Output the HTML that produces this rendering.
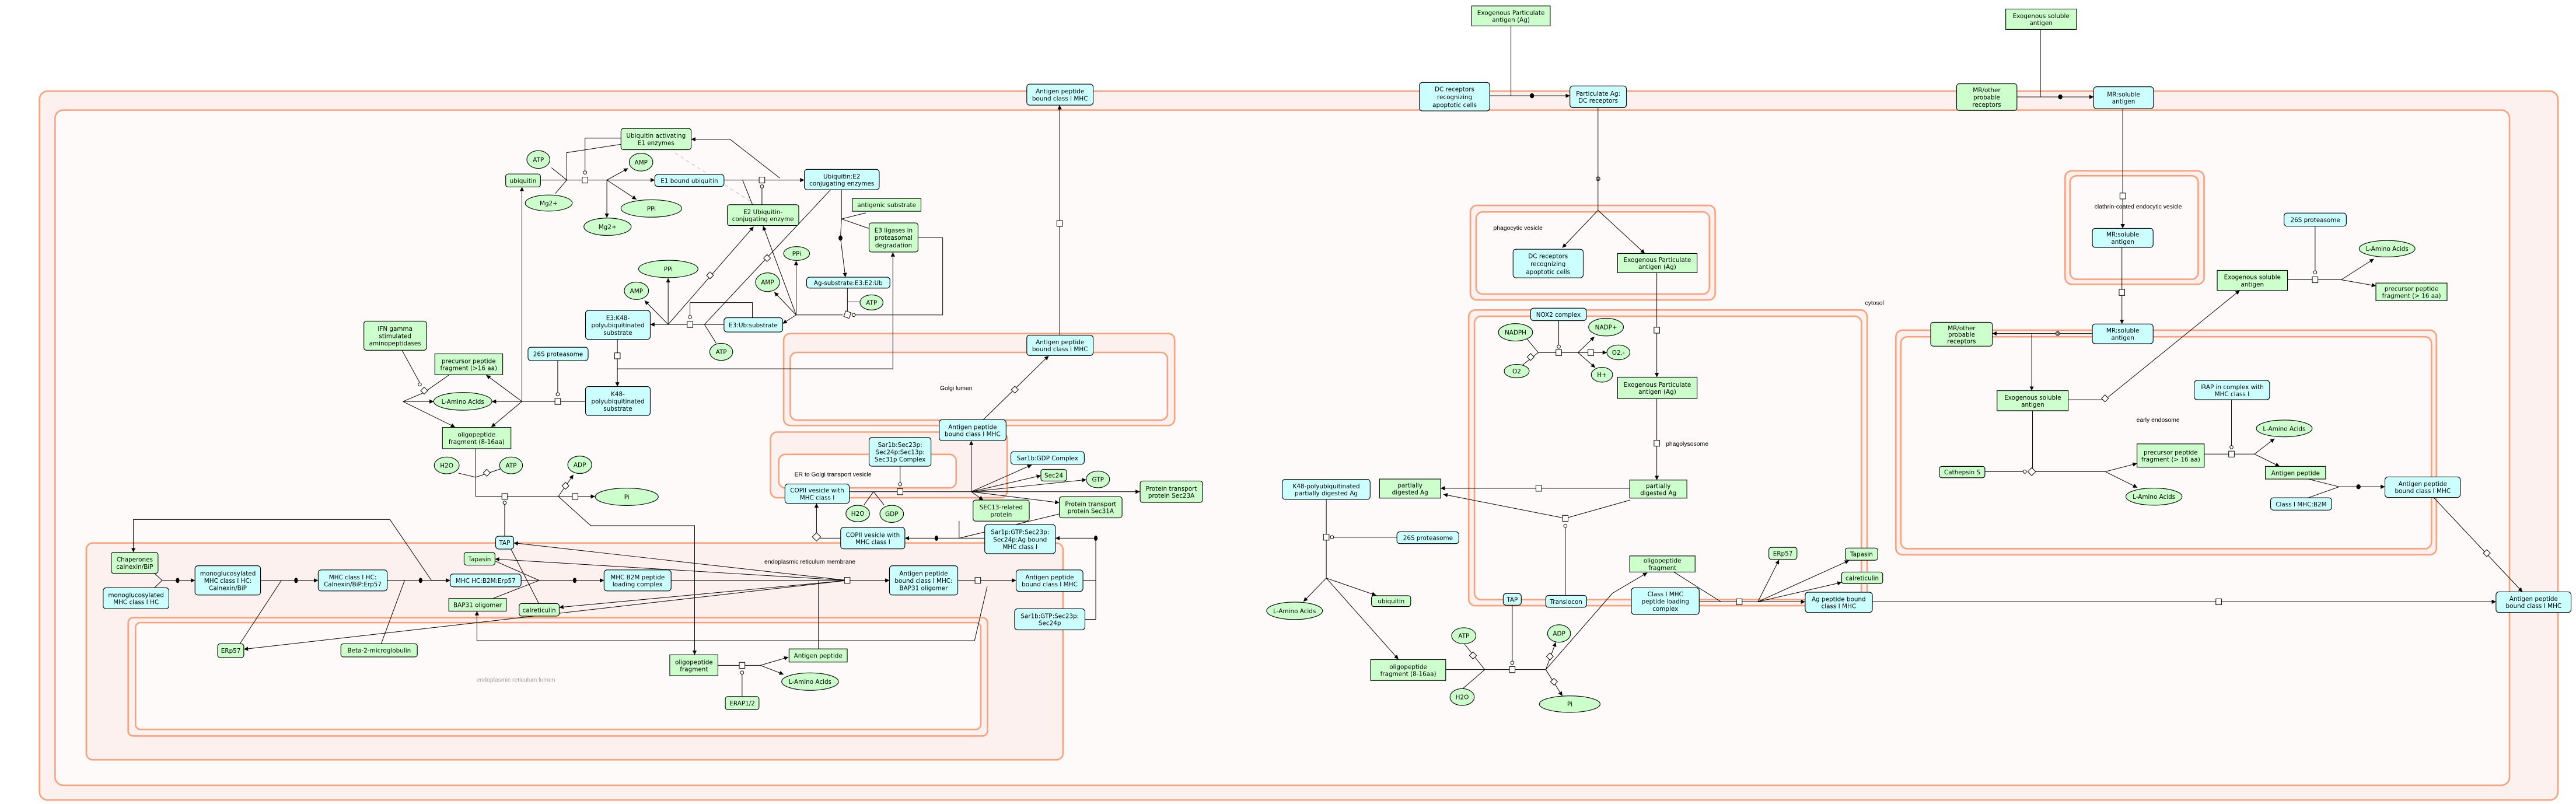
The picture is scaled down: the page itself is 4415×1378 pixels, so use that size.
<!DOCTYPE html>
<html><head><meta charset="utf-8"><style>
html,body{margin:0;padding:0;background:#fff}
svg{display:block}
text{font-family:"DejaVu Sans","Liberation Sans",sans-serif;font-size:3.7px;text-anchor:middle;fill:#000}
.cp{fill:#fcf1ee;stroke:#ff9f78;stroke-width:0.9}
.ci{fill:#fdfaf9;stroke:#ff9f78;stroke-width:0.9}
.c{fill:#ccffff;stroke:#000;stroke-width:0.4}
.g{fill:#ccffcc;stroke:#000;stroke-width:0.4}
.l{fill:none;stroke:#000;stroke-width:0.35}
.la{fill:none;stroke:#000;stroke-width:0.35;marker-end:url(#a)}
.sq{fill:#fff;stroke:#000;stroke-width:0.35}
.dot{fill:#000}
.lbl{font-family:"Liberation Sans",sans-serif;font-size:3.7px}
</style></head><body>
<svg width="4415" height="1378" viewBox="0 0 1568 489.4" preserveAspectRatio="none" xmlns="http://www.w3.org/2000/svg">
<defs><marker id="a" viewBox="0 0 10 10" refX="10" refY="5" markerWidth="2.6" markerHeight="2.6" markerUnits="userSpaceOnUse" orient="auto"><path d="M0,0L10,5L0,10z"/></marker></defs>
<rect width="1568" height="489.4" fill="#fff"/>
<!-- compartments -->
<rect class="cp" x="24" y="55.5" width="1533" height="431.5" rx="5"/>
<rect class="ci" x="33.5" y="67" width="1494" height="411" rx="5"/>
<rect class="cp" x="52.5" y="330.5" width="594.5" height="132" rx="4"/>
<rect class="cp" x="78" y="376" width="523" height="72" rx="3"/>
<rect class="ci" x="82.5" y="379" width="514.5" height="65" rx="3"/>
<text class="lbl" x="314" y="415" style="fill:#999">endoplasmic reticulum lumen</text>
<text class="lbl" x="493" y="343">endoplasmic reticulum membrane</text>
<rect class="cp" x="477" y="203" width="238" height="56" rx="4"/>
<rect class="ci" x="481" y="214.5" width="229.6" height="41.2" rx="4"/>
<text class="lbl" x="582" y="237.5">Golgi lumen</text>
<rect class="cp" x="469" y="263" width="144" height="40" rx="4"/>
<rect class="ci" x="474" y="276.6" width="108" height="20.4" rx="4"/>
<text class="lbl" x="507" y="290">ER to Golgi transport vesicle</text>
<rect class="cp" x="895" y="125" width="149" height="57.6" rx="4"/>
<rect class="ci" x="898.5" y="129" width="142" height="50" rx="4"/>
<text class="lbl" x="909" y="140" style="text-anchor:start">phagocytic vesicle</text>
<rect class="cp" x="894" y="188.7" width="242.5" height="180" rx="4"/>
<rect class="ci" x="897.5" y="192.5" width="235.5" height="172.5" rx="4"/>
<text class="lbl" x="1014" y="271.3" style="text-anchor:start">phagolysosome</text>
<text class="lbl" x="1141" y="185.5">cytosol</text>
<rect class="cp" x="1257" y="104" width="84.6" height="69" rx="4"/>
<rect class="ci" x="1260" y="107" width="78" height="63" rx="4"/>
<text class="lbl" x="1301.5" y="127">clathrin-coated endocytic vesicle</text>
<rect class="cp" x="1154" y="201" width="329" height="136.7" rx="4"/>
<rect class="ci" x="1157" y="205" width="323" height="129" rx="4"/>
<text class="lbl" x="1313.6" y="256.8">early endosome</text>

<!-- connectors -->
<g>
<path class="l" d="M919.7 15.8V58.3"/><path class="la" d="M906.8 58.3H955.6"/>
<path class="l" d="M972.7 65.5V128"/><path class="la" d="M972.7 128L951 150.8"/><path class="la" d="M972.7 128L1001.2 154.3"/>
<path class="l" d="M1242 17.9V59"/><path class="la" d="M1227.7 59H1274.4"/>
<path class="la" d="M1292.1 66.2V139"/><path class="la" d="M1291.6 150.6V197.2"/>
<path class="la" d="M1273.6 203H1212.7"/><path class="la" d="M1236.7 203V237.8"/>
<path class="la" d="M1258.9 243.3H1281.3L1363.3 176.8"/>
<path class="l" d="M1392.4 170.3H1425.1M1409.2 164.8V137.7"/>
<path class="la" d="M1425.1 170.3L1445 157.6"/><path class="la" d="M1425.1 170.3L1446.2 174"/>
<path class="l" d="M1237.2 250V287.1M1208.2 287.1H1231.5M1238.5 287.1H1281.5"/>
<path class="la" d="M1281.5 287.1L1300.8 282.1"/><path class="la" d="M1281.5 287.1L1301 296.8"/>
<path class="l" d="M1341.7 276.4H1372.3M1358.3 271.2V243.3"/>
<path class="la" d="M1372.3 276.4L1384.5 267"/><path class="la" d="M1372.3 276.4L1387.6 283.9"/>
<path class="l" d="M1405 291.6L1423.8 296.3L1405 303"/><path class="la" d="M1423.8 296.3H1451.7"/>
<path class="la" d="M1481.3 302.8L1535.4 360.3"/>
<path class="la" d="M1139.7 366.3H1519.3"/>
<path class="la" d="M645 204V64"/>
<path class="la" d="M1008.5 166V229.6"/><path class="la" d="M1008.5 242.6V292.2"/>
<path class="l" d="M948.8 195.2V210M928 204.5L936.3 214.6L922 226M936.3 214.6H960.5"/>
<path class="la" d="M960.5 214.6L970.5 205"/><path class="la" d="M960.5 214.6H978.1"/><path class="la" d="M960.5 214.6L971 223.8"/>
<path class="la" d="M992 297.2H876.9"/>
<path class="la" d="M992.2 304.4L952.8 315.5L878.6 300.9"/><path class="l" d="M952.8 321V362.4"/>
<path class="l" d="M807.3 304V351.9M811.8 327H850.3"/>
<path class="la" d="M807.3 351.9L793.4 366.2"/><path class="la" d="M807.3 351.9L837.7 362.4"/><path class="la" d="M807.3 351.9L851.2 401.3"/>
<path class="l" d="M880 407.6H940.9M891 391.5L903.8 407.6L890 419.5M920.5 402.4V368.4"/>
<path class="la" d="M940.9 407.6L947 391"/><path class="la" d="M940.9 407.6L951 423.6"/>
<path class="la" d="M940.9 407.6L981.5 361.1L1002.7 348.6"/>
<path class="l" d="M1018.9 348.2L1047.5 366.3"/><path class="la" d="M1034.3 366.3H1098.8"/>
<path class="la" d="M1070 366.3L1082.9 340.8"/><path class="la" d="M1070 366.3L1125.5 341.2"/><path class="la" d="M1070 366.3L1121 354.5"/>
<!-- ubiquitin -->
<path class="l" d="M329 109.6H356M335.7 102.1L345 109.6L338 117.8M378.2 87.8L345 92.9V109.6M356.1 104V84.1H378"/>
<path class="la" d="M358 109.6H398.6"/><path class="la" d="M369.4 109.6L382.3 102.5"/><path class="la" d="M369.4 109.6L387.4 121.4"/><path class="la" d="M369.4 109.6V132.6"/>
<path class="la" d="M440.7 109.6H489.6"/><path class="l" d="M463.8 114.5V124.6M452 109.6L458 124.6"/>
<path class="la" d="M474.7 108.4L444.4 84.8H420.7"/>
<path d="M411 93.2L458.7 123.8" stroke="#bbb" stroke-width="0.35" stroke-dasharray="2,2" fill="none"/>
<path class="la" d="M440.7 197.5H395.8"/><path class="l" d="M420 192V184.2H458V193.4"/>
<path class="la" d="M406.7 197.5L392.4 183"/><path class="la" d="M406.7 197.5V169.3"/><path class="la" d="M406.7 197.5L458.7 138"/>
<path class="l" d="M505.6 115.5L428.8 197.5M436 209L428.8 197.5"/>
<path class="l" d="M515.8 175.4V191.5M520.6 191.7H573.8V144.7H558.8M523.4 183.8H515.8M513 191.7H484.6"/>
<path class="la" d="M484.6 191.7L476.4 197"/><path class="la" d="M484.6 191.7V158.8"/><path class="la" d="M484.6 191.7L471.3 177.8"/><path class="la" d="M484.6 191.7L464.5 137.6"/>
<path class="l" d="M512.2 115.5V133.3L511.6 144.9M527 129.6L512.2 133.3L528.7 139"/><path class="la" d="M511.6 144.9L514.6 168.7"/>
<path class="la" d="M375.8 206.6V235.3"/><path class="la" d="M375.8 224.5H543.5V153.6"/>
<path class="l" d="M356.4 244.4H317.7M339.5 239V219.5"/>
<path class="la" d="M317.7 244.4H299.4"/><path class="la" d="M317.7 244.4V113.8"/><path class="la" d="M317.7 244.4L296 228.3"/><path class="la" d="M317.7 244.4L299 260"/>
<path class="la" d="M245.3 244.4H264"/><path class="la" d="M245.3 244.4L277 260"/>
<path class="l" d="M273.5 228.1L258 239L245.3 244.4M244.7 213.2L255.5 233"/>
<!-- ER cytosol reaction -->
<path class="l" d="M289.6 273V302.2H339.9M279 288L289.6 290.5L304.5 285.5M307.2 307V326.4"/>
<path class="la" d="M339.9 302.2H362.2"/><path class="la" d="M339.9 302.2L349 289"/>
<path class="la" d="M339.9 302.2L359.6 320H422.8V398.6"/>
<!-- ER -->
<path class="l" d="M437 405H462.8M451.7 410.4V424"/>
<path class="la" d="M462.8 405L479.9 400"/><path class="la" d="M462.8 405L477 410.5"/>
<path class="la" d="M237.3 316.2H81.2V336.2"/><path class="la" d="M237.3 316.2L262.6 353.3H274"/>
<path class="l" d="M94 349L98.7 353.3L94 357.8"/><path class="la" d="M98.7 353.3H118.7"/>
<path class="la" d="M158.6 353.3H193.7"/><path class="l" d="M171.3 353.3L146 391.9"/>
<path class="la" d="M235.7 353.3H274"/><path class="l" d="M246.3 353.3L232 391.9"/>
<path class="la" d="M317.2 353.3H367.7"/><path class="l" d="M301.3 341.5L328.2 353.3L300 364.3M311 334.2L328 367.4"/>
<path class="la" d="M408.5 353.3H541.4"/>
<path class="la" d="M515.7 353.3L312.7 330.5"/><path class="la" d="M515.7 353.3L301.3 340.3"/><path class="la" d="M515.7 353.3L340.4 369.7"/><path class="la" d="M515.7 353.3L148.4 395.2"/>
<path class="l" d="M498.2 353.3V395"/>
<path class="la" d="M583 353.3H618.5"/><path class="la" d="M600.9 357L593.2 390H290.3V372"/>
<path class="l" d="M659.2 353.3H667M660.4 377H667"/><path class="la" d="M667 377V327.6H642.4"/>
<path class="la" d="M599.4 327.6H550.8"/><path class="l" d="M583.8 317.2V327.6M644.7 312.9L583.8 327.6"/>
<path class="l" d="M511.7 327.6H499"/><path class="la" d="M497 324.5V306.4"/>
<path class="la" d="M517 299.3H693.8"/><path class="l" d="M547.9 293.8V283.8M525.8 307.5L531.7 299.3L538.2 307.5"/>
<path class="la" d="M591.2 299.3L628 283"/><path class="la" d="M591.2 299.3L633.6 289.5"/><path class="la" d="M591.2 299.3L661.2 292"/><path class="la" d="M591.2 299.3L644.8 306"/><path class="la" d="M591.2 299.3L598.5 304.4"/><path class="la" d="M591.2 299.3V268.3"/>
<path class="la" d="M598.5 255.5L638.3 216.6"/>
</g>
<!-- dots / modifiers -->
<g>
<ellipse class="dot" cx="932.5" cy="58.3" rx="1.3" ry="1.5"/>
<ellipse class="dot" cx="1254.1" cy="59" rx="1.3" ry="1.5"/>
<ellipse class="dot" cx="1435.6" cy="296.3" rx="1.3" ry="1.5"/>
<ellipse class="dot" cx="511.6" cy="144.9" rx="1.2" ry="1.6"/>
<ellipse class="dot" cx="108.1" cy="353.3" rx="1.1" ry="1.6"/>
<ellipse class="dot" cx="180.2" cy="353.3" rx="1.1" ry="1.6"/>
<ellipse class="dot" cx="256" cy="353.3" rx="1.1" ry="1.6"/>
<ellipse class="dot" cx="349.8" cy="353.3" rx="1.1" ry="1.6"/>
<ellipse class="dot" cx="570" cy="327.6" rx="1.1" ry="1.6"/>
<ellipse class="dot" cx="667" cy="327.6" rx="1.1" ry="1.6"/>
<circle class="sq" cx="972.7" cy="108.8" r="1.2"/><circle class="sq" cx="972.7" cy="108.8" r="0.6"/>
<circle class="sq" cx="1252.5" cy="203" r="1.2"/><circle class="sq" cx="1252.5" cy="203" r="0.6"/>
<circle class="sq" cx="1409.2" cy="165.8" r="1"/><circle class="sq" cx="1358.3" cy="272.2" r="1"/>
<circle class="sq" cx="1232.5" cy="287.1" r="1"/><circle class="sq" cx="948.8" cy="211" r="1"/>
<circle class="sq" cx="952.8" cy="320.1" r="1"/><circle class="sq" cx="810.8" cy="327" r="1"/>
<circle class="sq" cx="920.5" cy="403.4" r="1"/><circle class="sq" cx="356.1" cy="105" r="1"/>
<circle class="sq" cx="463.8" cy="113.5" r="1"/><circle class="sq" cx="420" cy="193" r="1"/>
<circle class="sq" cx="519.6" cy="191.7" r="1"/><circle class="sq" cx="339.5" cy="240" r="1"/>
<circle class="sq" cx="255.5" cy="234" r="1"/><circle class="sq" cx="307.2" cy="306" r="1"/>
<circle class="sq" cx="451.7" cy="409.4" r="1"/><circle class="sq" cx="547.9" cy="294.8" r="1"/>
<rect class="sq" x="1290.4" y="117.5" width="3.4" height="3.6"/>
<rect class="sq" x="1289.9" y="176.2" width="3.4" height="3.6"/>
<rect class="sq" x="1407.5" y="168.5" width="3.4" height="3.6"/>
<rect class="sq" x="1356.6" y="274.6" width="3.4" height="3.6"/>
<rect class="sq" x="947.1" y="212.8" width="3.4" height="3.6"/>
<rect class="sq" x="966.6" y="212.8" width="3.4" height="3.6"/>
<rect class="sq" x="1006.8" y="199.2" width="3.4" height="3.6"/>
<rect class="sq" x="1006.8" y="268" width="3.4" height="3.6"/>
<rect class="sq" x="934.9" y="295.4" width="3.4" height="3.6"/>
<rect class="sq" x="951.1" y="313.7" width="3.4" height="3.6"/>
<rect class="sq" x="805.6" y="325.2" width="3.4" height="3.6"/>
<rect class="sq" x="918.8" y="405.8" width="3.4" height="3.6"/>
<rect class="sq" x="1057" y="364.5" width="3.4" height="3.6"/>
<rect class="sq" x="1348.8" y="364.5" width="3.4" height="3.6"/>
<rect class="sq" x="643.3" y="134.2" width="3.4" height="3.6"/>
<rect class="sq" x="354.4" y="107.8" width="3.4" height="3.6"/>
<rect class="sq" x="462.1" y="107.8" width="3.4" height="3.6"/>
<rect class="sq" x="418.3" y="195.7" width="3.4" height="3.6"/>
<rect class="sq" x="514.1" y="189.7" width="3.4" height="3.6" transform="rotate(20 515.8 191.5)"/>
<rect class="sq" x="374.1" y="214.8" width="3.4" height="3.6"/>
<rect class="sq" x="337.8" y="242.6" width="3.4" height="3.6"/>
<rect class="sq" x="305.5" y="300.4" width="3.4" height="3.6"/>
<rect class="sq" x="348.4" y="300.4" width="3.4" height="3.6"/>
<rect class="sq" x="450" y="403.2" width="3.4" height="3.6"/>
<rect class="sq" x="514" y="351.5" width="3.4" height="3.6"/>
<rect class="sq" x="593.5" y="351.5" width="3.4" height="3.6"/>
<rect class="sq" x="546.2" y="297.5" width="3.4" height="3.6"/>
<rect class="sq" x="1279.8" y="241" width="3" height="3" transform="rotate(45 1281.3 242.5)"/>
<rect class="sq" x="1235" y="285.4" width="3.4" height="3.4" transform="rotate(45 1236.7 287.1)"/>
<rect class="sq" x="1512.2" y="335.2" width="3" height="3" transform="rotate(45 1513.7 336.7)"/>
<rect class="sq" x="930.2" y="215.8" width="3" height="3" transform="rotate(45 931.7 217.3)"/>
<rect class="sq" x="895.1" y="397.5" width="3" height="3" transform="rotate(45 896.6 399)"/>
<rect class="sq" x="941.9" y="398.1" width="3" height="3" transform="rotate(45 943.4 399.6)"/>
<rect class="sq" x="944.4" y="413.5" width="3" height="3" transform="rotate(45 945.9 415)"/>
<rect class="sq" x="616.2" y="235.7" width="3" height="3" transform="rotate(45 617.7 237.2)"/>
<rect class="sq" x="430.7" y="166.1" width="3" height="3" transform="rotate(45 432.2 167.6)"/>
<rect class="sq" x="465.4" y="155.6" width="3" height="3" transform="rotate(45 466.9 157.1)"/>
<rect class="sq" x="256.7" y="236.3" width="3" height="3" transform="rotate(45 258.2 237.8)"/>
<rect class="sq" x="294.8" y="286.3" width="3" height="3" transform="rotate(45 296.3 287.8)"/>
<rect class="sq" x="342.7" y="294.2" width="3" height="3" transform="rotate(45 344.2 295.7)"/>
<rect class="sq" x="495.2" y="325" width="3.6" height="3.6" transform="rotate(45 497 326.8)"/>
</g>
<!-- nodes -->
<g>
<rect class="g" x="895.8" y="3.6" width="47.8" height="12.2"/><text x="919.7" y="9.7"><tspan x="919.7" dy="-0.7">Exogenous Particulate</tspan><tspan x="919.7" dy="4.3">antigen (Ag)</tspan></text>
<rect class="g" x="1220.9" y="5.5" width="43" height="12.4"/><text x="1242.4" y="11.7"><tspan x="1242.4" dy="-0.7">Exogenous soluble</tspan><tspan x="1242.4" dy="4.3">antigen</tspan></text>
<rect class="c" x="625" y="51.2" width="40.4" height="12.8" rx="1.8"/><text y="57.6"><tspan x="645.2" dy="-0.7">Antigen peptide</tspan><tspan x="645.2" dy="4.3">bound class I MHC</tspan></text>
<rect class="c" x="864" y="50.2" width="42.8" height="17.3" rx="1.8"/><text y="58.9"><tspan x="885.4" dy="-3.3">DC receptors</tspan><tspan x="885.4" dy="4.8">recognizing</tspan><tspan x="885.4" dy="4.8">apoptotic cells</tspan></text>
<rect class="c" x="955.6" y="52.3" width="34.4" height="13.2" rx="1.8"/><text y="58.9"><tspan x="972.8" dy="-0.7">Particulate Ag:</tspan><tspan x="972.8" dy="4.3">DC receptors</tspan></text>
<rect class="g" x="1191" y="51" width="36.7" height="16.2" rx="1.5"/><text y="59.1"><tspan x="1209.3" dy="-2.9">MR/other</tspan><tspan x="1209.3" dy="4.4">probable</tspan><tspan x="1209.3" dy="4.4">receptors</tspan></text>
<rect class="c" x="1274.4" y="52.8" width="36.4" height="13.4" rx="1.8"/><text y="59.5"><tspan x="1292.6" dy="-0.7">MR:soluble</tspan><tspan x="1292.6" dy="4.3">antigen</tspan></text>

<rect class="g" x="378" y="78.2" width="42.7" height="12.9" rx="1.5"/><text y="84.6"><tspan x="399.3" dy="-0.7">Ubiquitin activating</tspan><tspan x="399.3" dy="4.3">E1 enzymes</tspan></text>
<ellipse class="g" cx="327.7" cy="97.1" rx="7" ry="5.4"/><text x="327.7" y="98.5">ATP</text>
<rect class="g" x="307.8" y="105.9" width="21.2" height="7.9" rx="1.5"/><text x="318.4" y="111.3">ubiquitin</text>
<ellipse class="g" cx="334" cy="123.6" rx="14.3" ry="4.9"/><text x="334" y="125">Mg2+</text>
<ellipse class="g" cx="390.2" cy="98.7" rx="7.2" ry="5.4"/><text x="390.2" y="100.1">AMP</text>
<rect class="c" x="398.6" y="106.2" width="42.1" height="7.3" rx="1.8"/><text x="419.6" y="111.3">E1 bound ubiquitin</text>
<ellipse class="g" cx="396.5" cy="126.9" rx="18.5" ry="5.3"/><text x="396.5" y="128.3">PPi</text>
<ellipse class="g" cx="369.8" cy="138" rx="14.4" ry="5.3"/><text x="369.8" y="139.4">Mg2+</text>
<rect class="c" x="489.6" y="103.1" width="45.6" height="12.4" rx="1.8"/><text y="109.3"><tspan x="512.4" dy="-0.7">Ubiquitin:E2</tspan><tspan x="512.4" dy="4.3">conjugating enzymes</tspan></text>
<rect class="g" x="442.7" y="124.6" width="43.5" height="12.7" rx="1.5"/><text y="131"><tspan x="464.4" dy="-0.7">E2 Ubiquitin-</tspan><tspan x="464.4" dy="4.3">conjugating enzyme</tspan></text>
<rect class="g" x="518.8" y="120.8" width="41.8" height="7.8"/><text x="539.7" y="126.1">antigenic substrate</text>
<rect class="g" x="529" y="135.7" width="29.8" height="17.7" rx="1.5"/><text y="144.5"><tspan x="543.9" dy="-3">E3 ligases in</tspan><tspan x="543.9" dy="4.5">proteasomal</tspan><tspan x="543.9" dy="4.5">degradation</tspan></text>
<rect class="c" x="491" y="168.7" width="50.7" height="6.7" rx="1.8"/><text x="516.3" y="173.5">Ag-substrate:E3:E2:Ub</text>
<ellipse class="g" cx="530.5" cy="184.1" rx="7" ry="4.6"/><text x="530.5" y="185.5">ATP</text>
<ellipse class="g" cx="484.9" cy="154.3" rx="7.9" ry="4.2"/><text x="484.9" y="155.7">PPi</text>
<ellipse class="g" cx="467.2" cy="171.8" rx="7.3" ry="5.7"/><text x="467.2" y="173.2">AMP</text>
<rect class="c" x="440.7" y="193.4" width="35.7" height="8.7" rx="1.8"/><text x="458.5" y="199.2">E3:Ub:substrate</text>
<ellipse class="g" cx="439" cy="214.2" rx="7" ry="5.2"/><text x="439" y="215.6">ATP</text>
<rect class="c" x="356.4" y="189" width="39.4" height="17.6" rx="1.8"/><text y="197.8"><tspan x="376.1" dy="-3">E3:K48-</tspan><tspan x="376.1" dy="4.5">polyubiquitinated</tspan><tspan x="376.1" dy="4.5">substrate</tspan></text>
<ellipse class="g" cx="406.8" cy="163.7" rx="18.1" ry="5.3"/><text x="406.8" y="165.1">PPi</text>
<ellipse class="g" cx="387.4" cy="177" rx="7.4" ry="5.3"/><text x="387.4" y="178.4">AMP</text>
<rect class="c" x="356.4" y="235.3" width="39.4" height="17.6" rx="1.8"/><text y="244.1"><tspan x="376.1" dy="-3">K48-</tspan><tspan x="376.1" dy="4.5">polyubiquitinated</tspan><tspan x="376.1" dy="4.5">substrate</tspan></text>
<rect class="c" x="321.4" y="211.4" width="36.6" height="8.1" rx="1.8"/><text x="339.7" y="216.9">26S proteasome</text>
<rect class="g" x="221.5" y="195.5" width="38.1" height="17.7" rx="1.5"/><text y="204.3"><tspan x="240.5" dy="-3">IFN gamma</tspan><tspan x="240.5" dy="4.5">stimulated</tspan><tspan x="240.5" dy="4.5">aminopeptidases</tspan></text>
<rect class="g" x="264.7" y="215.4" width="41.3" height="12.7"/><text y="221.7"><tspan x="285.3" dy="-0.7">precursor peptide</tspan><tspan x="285.3" dy="4.3">fragment (&gt;16 aa)</tspan></text>
<ellipse class="g" cx="281.7" cy="244.3" rx="17.7" ry="5.4"/><text x="281.7" y="245.7">L-Amino Acids</text>
<rect class="g" x="269.3" y="260.2" width="41.7" height="12.9"/><text y="266.6"><tspan x="290.1" dy="-0.7">oligopeptide</tspan><tspan x="290.1" dy="4.3">fragment (8-16aa)</tspan></text>
<ellipse class="g" cx="271.9" cy="283.3" rx="7.6" ry="5.1"/><text x="271.9" y="284.7">H2O</text>
<ellipse class="g" cx="311.1" cy="283.3" rx="7" ry="5.1"/><text x="311.1" y="284.7">ATP</text>
<ellipse class="g" cx="352.9" cy="282.9" rx="7.3" ry="5.3"/><text x="352.9" y="284.3">ADP</text>
<ellipse class="g" cx="381.5" cy="302.4" rx="19.2" ry="5.3"/><text x="381.5" y="303.8">Pi</text>

<rect class="c" x="625" y="204" width="40.4" height="12.4" rx="1.8"/><text y="210.2"><tspan x="645.2" dy="-0.7">Antigen peptide</tspan><tspan x="645.2" dy="4.3">bound class I MHC</tspan></text>
<rect class="c" x="571.7" y="255.5" width="40.7" height="12.8" rx="1.8"/><text y="261.9"><tspan x="592" dy="-0.7">Antigen peptide</tspan><tspan x="592" dy="4.3">bound class I MHC</tspan></text>
<rect class="c" x="529" y="266.3" width="37.7" height="17.5" rx="1.8"/><text y="275"><tspan x="547.9" dy="-3">Sar1b:Sec23p:</tspan><tspan x="547.9" dy="4.5">Sec24p:Sec13p:</tspan><tspan x="547.9" dy="4.5">Sec31p Complex</tspan></text>
<rect class="c" x="615.3" y="274.9" width="44.7" height="7.7" rx="1.8"/><text x="637.6" y="280.2">Sar1b:GDP Complex</text>
<rect class="g" x="633.6" y="285.7" width="15.6" height="7.1" rx="1.5"/><text x="641.4" y="290.7">Sec24</text>
<ellipse class="g" cx="668.3" cy="291.8" rx="7.1" ry="5.1"/><text x="668.3" y="293.2">GTP</text>
<rect class="g" x="694" y="292.8" width="38" height="13" rx="1.5"/><text y="299.3"><tspan x="713" dy="-0.7">Protein transport</tspan><tspan x="713" dy="4.3">protein Sec23A</tspan></text>
<rect class="g" x="644.8" y="302.4" width="38.2" height="12.8" rx="1.5"/><text y="308.8"><tspan x="663.9" dy="-0.7">Protein transport</tspan><tspan x="663.9" dy="4.3">protein Sec31A</tspan></text>
<rect class="g" x="592.3" y="304.4" width="34.2" height="12.8" rx="1.5"/><text y="310.8"><tspan x="609.4" dy="-0.7">SEC13-related</tspan><tspan x="609.4" dy="4.3">protein</tspan></text>
<rect class="c" x="477.8" y="294.6" width="39.2" height="11.8" rx="1.8"/><text y="300.5"><tspan x="497.4" dy="-0.7">COPII vesicle with</tspan><tspan x="497.4" dy="4.3">MHC class I</tspan></text>
<ellipse class="g" cx="522.1" cy="312.6" rx="7.2" ry="5"/><text x="522.1" y="314">H2O</text>
<ellipse class="g" cx="542.8" cy="312.8" rx="7.2" ry="5.2"/><text x="542.8" y="314.2">GDP</text>
<rect class="c" x="511.7" y="321.1" width="39.1" height="13" rx="1.8"/><text y="327.6"><tspan x="531.3" dy="-0.7">COPII vesicle with</tspan><tspan x="531.3" dy="4.3">MHC class I</tspan></text>
<rect class="c" x="599.4" y="319.3" width="43" height="17.7" rx="1.8"/><text y="328.2"><tspan x="620.9" dy="-3">Sar1p:GTP:Sec23p:</tspan><tspan x="620.9" dy="4.5">Sec24p:Ag bound</tspan><tspan x="620.9" dy="4.5">MHC class I</tspan></text>

<rect class="g" x="67.7" y="336.2" width="28.5" height="12.8" rx="1.5"/><text y="342.6"><tspan x="82" dy="-0.7">Chaperones</tspan><tspan x="82" dy="4.3">calnexin/BiP</tspan></text>
<rect class="c" x="62.8" y="357.8" width="40" height="12.8" rx="1.8"/><text y="364.2"><tspan x="82.8" dy="-0.7">monoglucosylated</tspan><tspan x="82.8" dy="4.3">MHC class I HC</tspan></text>
<rect class="c" x="118.7" y="344.4" width="39.9" height="17.8" rx="1.8"/><text y="353.3"><tspan x="138.7" dy="-3">monoglucosylated</tspan><tspan x="138.7" dy="4.5">MHC class I HC:</tspan><tspan x="138.7" dy="4.5">Calnexin/BiP</tspan></text>
<rect class="c" x="193.7" y="346.9" width="42" height="12.8" rx="1.8"/><text y="353.3"><tspan x="214.7" dy="-0.7">MHC class I HC:</tspan><tspan x="214.7" dy="4.3">Calnexin/BiP:Erp57</tspan></text>
<rect class="c" x="274" y="349.4" width="43.2" height="7.8" rx="1.8"/><text x="295.6" y="354.8">MHC HC:B2M:Erp57</text>
<rect class="c" x="301.7" y="326.4" width="11" height="7.8" rx="1.8"/><text x="307.2" y="331.8">TAP</text>
<rect class="g" x="282.5" y="336.2" width="18.8" height="7.8" rx="1.5"/><text x="291.9" y="341.6">Tapasin</text>
<rect class="g" x="273.2" y="364.3" width="35" height="7.7"/><text x="290.7" y="369.6">BAP31 oligomer</text>
<rect class="g" x="316" y="367.4" width="24.4" height="7.6" rx="1.5"/><text x="328.2" y="372.7">calreticulin</text>
<rect class="c" x="367.7" y="346.9" width="40.8" height="12.8" rx="1.8"/><text y="353.3"><tspan x="388.1" dy="-0.7">MHC B2M peptide</tspan><tspan x="388.1" dy="4.3">loading complex</tspan></text>
<rect class="c" x="541.4" y="344.4" width="41.6" height="17.8" rx="1.8"/><text y="353.3"><tspan x="562.2" dy="-3">Antigen peptide</tspan><tspan x="562.2" dy="4.5">bound class I MHC:</tspan><tspan x="562.2" dy="4.5">BAP31 oligomer</tspan></text>
<rect class="c" x="618.5" y="346.9" width="40.7" height="13.1" rx="1.8"/><text y="353.4"><tspan x="638.9" dy="-0.7">Antigen peptide</tspan><tspan x="638.9" dy="4.3">bound class I MHC</tspan></text>
<rect class="c" x="617.6" y="370.6" width="42.8" height="12.8" rx="1.8"/><text y="377"><tspan x="639" dy="-0.7">Sar1b:GTP:Sec23p:</tspan><tspan x="639" dy="4.3">Sec24p</tspan></text>
<rect class="g" x="132.5" y="391.9" width="15.9" height="8.4" rx="1.5"/><text x="140.5" y="397.5">ERp57</text>
<rect class="g" x="207.5" y="391.9" width="46.5" height="8" rx="1.5"/><text x="230.8" y="397.3">Beta-2-microglobulin</text>
<rect class="g" x="407.7" y="398.6" width="29.3" height="12.7"/><text y="405"><tspan x="422.4" dy="-0.7">oligopeptide</tspan><tspan x="422.4" dy="4.3">fragment</tspan></text>
<rect class="g" x="480.3" y="395" width="35.4" height="8"/><text x="498" y="400.4">Antigen peptide</text>
<ellipse class="g" cx="493.1" cy="414.9" rx="17.3" ry="5.3"/><text x="493.1" y="416.3">L-Amino Acids</text>
<rect class="g" x="441.5" y="424" width="20.5" height="8" rx="1.5"/><text x="451.8" y="429.4">ERAP1/2</text>

<rect class="c" x="780.5" y="291.8" width="53.5" height="12.2" rx="1.8"/><text y="297.9"><tspan x="807.3" dy="-0.7">K48-polyubiquitinated</tspan><tspan x="807.3" dy="4.3">partially digested Ag</tspan></text>
<rect class="g" x="839.7" y="291.6" width="37.2" height="11.6"/><text y="297.4"><tspan x="858.3" dy="-0.7">partially</tspan><tspan x="858.3" dy="4.3">digested Ag</tspan></text>
<rect class="c" x="850.3" y="323.7" width="37.7" height="7.2" rx="1.8"/><text x="869.2" y="328.7">26S proteasome</text>
<ellipse class="g" cx="788" cy="371.8" rx="17" ry="5.3"/><text x="788" y="373.2">L-Amino Acids</text>
<rect class="g" x="834.8" y="362.6" width="23.9" height="6.6" rx="1.5"/><text x="846.8" y="367.3">ubiquitin</text>
<rect class="g" x="834.3" y="401.5" width="45.7" height="12.7"/><text y="407.9"><tspan x="857.2" dy="-0.7">oligopeptide</tspan><tspan x="857.2" dy="4.3">fragment (8-16aa)</tspan></text>
<ellipse class="g" cx="891" cy="387" rx="7.4" ry="4.9"/><text x="891" y="388.4">ATP</text>
<ellipse class="g" cx="890" cy="424.3" rx="7.4" ry="5.1"/><text x="890" y="425.7">H2O</text>
<rect class="c" x="915" y="361.3" width="11" height="7.1" rx="1.8"/><text x="920.5" y="366.3">TAP</text>
<rect class="c" x="940.9" y="362.4" width="24.9" height="7.3" rx="1.8"/><text x="953.3" y="367.5">Translocon</text>
<ellipse class="g" cx="949" cy="385.6" rx="7" ry="5.3"/><text x="949" y="387">ADP</text>
<ellipse class="g" cx="955.5" cy="428.6" rx="18.5" ry="5"/><text x="955.5" y="430">Pi</text>

<rect class="c" x="921" y="151.7" width="42.7" height="17.4" rx="1.8"/><text y="160.4"><tspan x="942.3" dy="-3.3">DC receptors</tspan><tspan x="942.3" dy="4.8">recognizing</tspan><tspan x="942.3" dy="4.8">apoptotic cells</tspan></text>
<rect class="g" x="984.6" y="154.3" width="48.4" height="11.7"/><text y="160.1"><tspan x="1008.8" dy="-0.7">Exogenous Particulate</tspan><tspan x="1008.8" dy="4.3">antigen (Ag)</tspan></text>
<rect class="c" x="931.7" y="187.6" width="33.9" height="7.6" rx="1.8"/><text x="948.6" y="192.8">NOX2 complex</text>
<ellipse class="g" cx="922.5" cy="202.3" rx="10.4" ry="5.3"/><text x="922.5" y="203.7">NADPH</text>
<ellipse class="g" cx="923.2" cy="225.9" rx="7.6" ry="4.1"/><text x="923.2" y="227.3">O2</text>
<ellipse class="g" cx="977.6" cy="199.1" rx="10.6" ry="5.4"/><text x="977.6" y="200.5">NADP+</text>
<ellipse class="g" cx="985.1" cy="214.5" rx="7" ry="4.5"/><text x="985.1" y="215.9">O2.-</text>
<ellipse class="g" cx="975.1" cy="228.1" rx="6.5" ry="4.5"/><text x="975.1" y="229.5">H+</text>
<rect class="g" x="984.6" y="229.6" width="48.4" height="13"/><text y="236.1"><tspan x="1008.8" dy="-0.7">Exogenous Particulate</tspan><tspan x="1008.8" dy="4.3">antigen (Ag)</tspan></text>
<rect class="g" x="992" y="292.2" width="34.8" height="11"/><text y="297.7"><tspan x="1009.4" dy="-0.7">partially</tspan><tspan x="1009.4" dy="4.3">digested Ag</tspan></text>
<rect class="g" x="992" y="338.4" width="39.8" height="9.8"/><text y="343.3"><tspan x="1011.9" dy="-0.7">oligopeptide</tspan><tspan x="1011.9" dy="4.3">fragment</tspan></text>
<rect class="c" x="993" y="357.8" width="41.3" height="16.2" rx="1.8"/><text y="365.9"><tspan x="1013.7" dy="-2.9">Class I MHC</tspan><tspan x="1013.7" dy="4.4">peptide loading</tspan><tspan x="1013.7" dy="4.4">complex</tspan></text>
<rect class="g" x="1076.7" y="333.2" width="17.1" height="7.3" rx="1.5"/><text x="1085.2" y="338.3">ERp57</text>
<rect class="g" x="1123.2" y="333.6" width="19.8" height="7.4" rx="1.5"/><text x="1133.1" y="338.7">Tapasin</text>
<rect class="g" x="1121" y="348.2" width="25" height="7.1" rx="1.5"/><text x="1133.5" y="353.2">calreticulin</text>
<rect class="c" x="1098.8" y="360.5" width="40.9" height="12.3" rx="1.8"/><text y="366.6"><tspan x="1119.2" dy="-0.7">Ag peptide bound</tspan><tspan x="1119.2" dy="4.3">class I MHC</tspan></text>

<rect class="c" x="1273.6" y="139" width="37" height="11.6" rx="1.8"/><text y="144.8"><tspan x="1292.1" dy="-0.7">MR:soluble</tspan><tspan x="1292.1" dy="4.3">antigen</tspan></text>
<rect class="c" x="1273.6" y="197.2" width="37" height="12" rx="1.8"/><text y="203.2"><tspan x="1292.1" dy="-0.7">MR:soluble</tspan><tspan x="1292.1" dy="4.3">antigen</tspan></text>
<rect class="g" x="1175.2" y="196.2" width="37.5" height="14.5" rx="1.5"/><text y="203.5"><tspan x="1194" dy="-2.5">MR/other</tspan><tspan x="1194" dy="4">probable</tspan><tspan x="1194" dy="4">receptors</tspan></text>
<rect class="g" x="1215.6" y="237.8" width="43.3" height="12.2"/><text y="243.9"><tspan x="1237.3" dy="-0.7">Exogenous soluble</tspan><tspan x="1237.3" dy="4.3">antigen</tspan></text>
<rect class="g" x="1349.6" y="164.6" width="42.8" height="12.2"/><text y="170.7"><tspan x="1371" dy="-0.7">Exogenous soluble</tspan><tspan x="1371" dy="4.3">antigen</tspan></text>
<rect class="c" x="1390.3" y="129.7" width="37.9" height="8" rx="1.8"/><text x="1409.3" y="135.1">26S proteasome</text>
<ellipse class="g" cx="1453" cy="151.4" rx="17" ry="5"/><text x="1453" y="152.8">L-Amino Acids</text>
<rect class="g" x="1446.2" y="172.3" width="43.3" height="10.7"/><text y="177.7"><tspan x="1467.9" dy="-0.7">precursor peptide</tspan><tspan x="1467.9" dy="4.3">fragment (&gt; 16 aa)</tspan></text>
<rect class="c" x="1335.6" y="231.6" width="45.9" height="11.7" rx="1.8"/><text y="237.5"><tspan x="1358.6" dy="-0.7">IRAP in complex with</tspan><tspan x="1358.6" dy="4.3">MHC class I</tspan></text>
<ellipse class="g" cx="1390.4" cy="260.8" rx="17" ry="5.1"/><text x="1390.4" y="262.2">L-Amino Acids</text>
<rect class="g" x="1300.8" y="270.2" width="40.9" height="14.2"/><text y="277.3"><tspan x="1321.3" dy="-0.7">precursor peptide</tspan><tspan x="1321.3" dy="4.3">fragment (&gt; 16 aa)</tspan></text>
<rect class="g" x="1378.9" y="283.9" width="36.7" height="7.7"/><text x="1397.3" y="289.2">Antigen peptide</text>
<rect class="c" x="1382.1" y="303" width="37.2" height="7.5" rx="1.8"/><text x="1400.7" y="308.2">Class I MHC:B2M</text>
<rect class="c" x="1451.7" y="290.3" width="45.9" height="12.5" rx="1.8"/><text y="296.5"><tspan x="1474.7" dy="-0.7">Antigen peptide</tspan><tspan x="1474.7" dy="4.3">bound class I MHC</tspan></text>
<rect class="c" x="1519.3" y="360.3" width="45.7" height="12.5" rx="1.8"/><text y="366.5"><tspan x="1542.2" dy="-0.7">Antigen peptide</tspan><tspan x="1542.2" dy="4.3">bound class I MHC</tspan></text>
<rect class="g" x="1180.5" y="283.9" width="27.7" height="6.9" rx="1.5"/><text x="1194.4" y="288.8">Cathepsin S</text>
<ellipse class="g" cx="1311.1" cy="302.3" rx="17.1" ry="5.2"/><text x="1311.1" y="303.7">L-Amino Acids</text>
</g>
</svg>
</body></html>
